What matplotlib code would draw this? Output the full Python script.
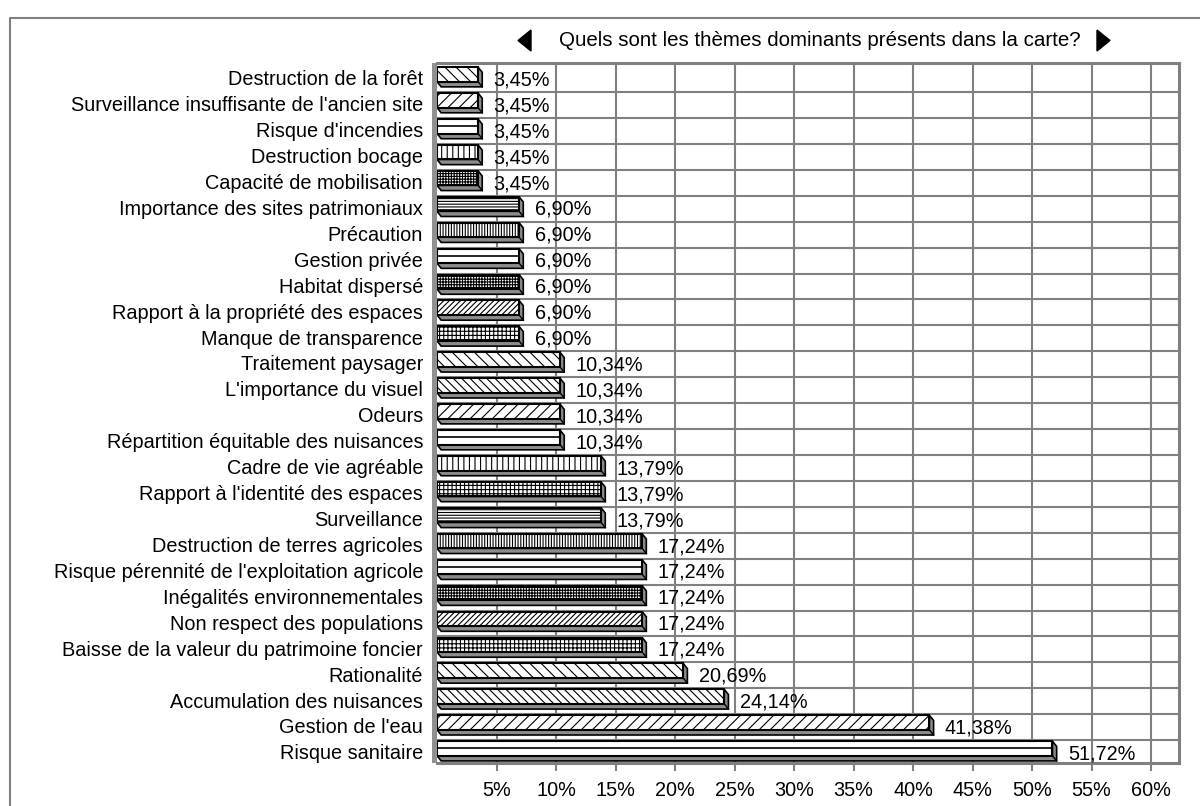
import numpy as np
import matplotlib
matplotlib.use("Agg")
import matplotlib.pyplot as plt
from matplotlib.patches import Rectangle, Polygon
from matplotlib.lines import Line2D

plt.rcParams['font.family'] = ['Liberation Sans', 'DejaVu Sans']
plt.rcParams['hatch.linewidth'] = 0.8

# Thèmes (de haut en bas) et pourcentages
themes = [
    "Destruction de la forêt",
    "Surveillance insuffisante de l'ancien site",
    "Risque d'incendies",
    "Destruction bocage",
    "Capacité de mobilisation",
    "Importance des sites patrimoniaux",
    "Précaution",
    "Gestion privée",
    "Habitat dispersé",
    "Rapport à la propriété des espaces",
    "Manque de transparence",
    "Traitement paysager",
    "L'importance du visuel",
    "Odeurs",
    "Répartition équitable des nuisances",
    "Cadre de vie agréable",
    "Rapport à l'identité des espaces",
    "Surveillance",
    "Destruction de terres agricoles",
    "Risque pérennité de l'exploitation agricole",
    "Inégalités environnementales",
    "Non respect des populations",
    "Baisse de la valeur du patrimoine foncier",
    "Rationalité",
    "Accumulation des nuisances",
    "Gestion de l'eau",
    "Risque sanitaire",
]
valeurs = [3.45, 3.45, 3.45, 3.45, 3.45,
           6.90, 6.90, 6.90, 6.90, 6.90, 6.90,
           10.34, 10.34, 10.34, 10.34,
           13.79, 13.79, 13.79,
           17.24, 17.24, 17.24, 17.24, 17.24,
           20.69, 24.14, 41.38, 51.72]
# motifs des barres ('mid' = simple trait horizontal au milieu)
motifs = ['\\\\\\', '///', 'mid', '|||', '++++++',
          '------', '||||||', 'mid', '++++++', '//////', '++++',
          '\\\\\\', '\\\\\\\\', '///', 'mid',
          '|||', '++++', '------',
          '||||||', 'mid', '++++++', '//////', '++++',
          '\\\\\\', '\\\\\\\\', '///', 'mid']
graduations = [5, 10, 15, 20, 25, 30, 35, 40, 45, 50, 55, 60]

W, H = 1200, 806
fs = 14.3
fig = plt.figure(figsize=(W / 100, H / 100), dpi=100)
gris = '#808080'

# cadre extérieur
fig.add_artist(Line2D([10 / W, 10 / W, 1], [0, 1 - 18 / H, 1 - 18 / H],
                      transform=fig.transFigure, color=gris, lw=1.5))

ax = fig.add_axes([437 / W, 1 - 763 / H, (1179 - 437) / W, (763 - 63) / H])
n = len(themes)
ax.set_xlim(0, 742 / 11.9)
ax.set_ylim(n - 0.5, -0.5)

for x in graduations:
    ax.axvline(x, color=gris, lw=1.5, zorder=0)
for k in range(n - 1):
    ax.axhline(k + 0.62, color=gris, lw=1.5, zorder=0)

h = 0.56
dx, dy = 0.35, 0.2
for i, (v, m) in enumerate(zip(valeurs, motifs)):
    top, bot = i - h / 2 - 0.06, i + h / 2 - 0.06
    # profondeur 3D (dessous et côté droit)
    ax.add_patch(Polygon([(0, bot), (v, bot), (v, top), (v + dx, top + dy),
                          (v + dx, bot + dy), (dx, bot + dy)],
                         closed=True, facecolor='#8c8c8c', edgecolor='black',
                         lw=1.2, zorder=2))
    ax.plot([v, v + dx], [bot, bot + dy], color='black', lw=1.0, zorder=2)
    face = Rectangle((0, top), v, h, facecolor='white', edgecolor='black',
                     lw=1.5, zorder=3, hatch=None if m == 'mid' else m)
    ax.add_patch(face)
    if m == 'mid':
        ax.plot([0, v], [i - 0.06, i - 0.06], color='black', lw=1.2, zorder=4)
    ax.text(v + 1.3, i + 0.15, f"{v:.2f}%".replace('.', ','),
            ha='left', va='center', fontsize=fs, zorder=5)

# paroi gauche
ax.add_patch(Rectangle((-5 / 742, 0), 5 / 742, 1, transform=ax.transAxes,
                       facecolor='#909090', edgecolor='none', clip_on=False,
                       zorder=1))

ax.set_yticks(np.arange(n) + 0.07)
ax.set_yticklabels(themes, fontsize=fs)
ax.tick_params(axis='y', length=0, pad=10)
ax.set_xticks(graduations)
ax.set_xticklabels([f"{g}%" for g in graduations], fontsize=fs)
ax.tick_params(axis='x', direction='out', length=6, width=1.5, color=gris, pad=7)
for s in ['top', 'right', 'bottom']:
    ax.spines[s].set_color(gris)
    ax.spines[s].set_linewidth(2.2)
ax.spines['left'].set_visible(False)

# titre encadré par deux flèches
fig.text(820 / W, 1 - 40 / H,
         "Quels sont les thèmes dominants présents dans la carte?",
         ha='center', va='center', fontsize=14.8)
for pts in ([(531, 30), (531, 51), (518, 40.5)],
            [(1097, 30), (1097, 51), (1110, 40.5)]):
    fig.add_artist(Polygon([(px / W, 1 - py / H) for px, py in pts],
                           closed=True, transform=fig.transFigure,
                           facecolor='black', edgecolor='black'))

fig.savefig('out.png', dpi=100)
